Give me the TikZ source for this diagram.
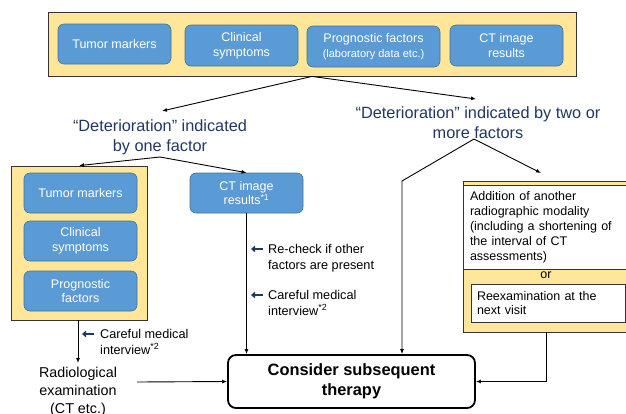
\documentclass[tikz,border=0pt]{standalone}
\usepackage{fontspec}
\setmainfont{Liberation Sans}
\usetikzlibrary{arrows.meta,calc}
\definecolor{yel}{HTML}{FFE699}
\definecolor{blu}{HTML}{5B9BD5}
\definecolor{bluD}{HTML}{41719C}
\definecolor{navy}{HTML}{203864}
\newcommand{\fsz}[2]{\fontsize{#1}{#2}\selectfont}
\tikzset{
  yelbox/.style={fill=yel, draw=black!80, line width=0.8pt, inner sep=0},
  bluebox/.style={fill=blu, draw=bluD, line width=0.6pt, rounded corners=6pt, text=white,
    font=\fsz{12.5}{14.7}, align=center, inner sep=0, minimum width=113pt, minimum height=40pt},
  whitebox/.style={fill=white, draw=black!80, line width=0.6pt, align=left, font=\fsz{12.5}{15}, inner ysep=0},
  conn/.style={line width=0.9pt, -{Latex[length=5pt,width=4pt]}},
  navytxt/.style={text=navy, font=\fsz{16.3}{20}, align=center, inner sep=0},
  note/.style={font=\fsz{12.7}{15.5}, align=left, inner sep=0, anchor=north west},
  navyarrow/.style={draw=navy, line width=2.4pt, -{Triangle[length=4pt,width=6.5pt]}},
}
\begin{document}
\begin{tikzpicture}[x=1pt,y=-1pt]
\useasboundingbox (0,0) rectangle (626,413);
% top box
\node[yelbox, minimum width=528pt, minimum height=64pt] (top) at (312,44) {};
\node[bluebox] (tm1) at (114.5,44) {Tumor markers};
\node[bluebox, minimum height=41pt] (cs1) at (241.5,45.5) {Clinical\\symptoms};
\node[bluebox, minimum width=133pt, minimum height=41pt] (pf1) at (373.5,46.5) {Prognostic factors\\{\fsz{11}{13}(laboratory data etc.)}};
\node[bluebox, minimum height=41pt] (ct1) at (506.5,45.5) {CT image\\results};
% deterioration texts
\node[navytxt] (dl) at (160,137.5) {“Deterioration” indicated\\by one factor};
\node[navytxt] (dr) at (478,122.7) {“Deterioration” indicated by two or\\more factors};
\coordinate (dlIn) at (162,111);
\coordinate (drIn) at (476,99);
\coordinate (dlOut) at (160,157);
\coordinate (drOut) at (474,139);
\coordinate (rIn) at (541,173);
\coordinate (bend) at (402,181);
\draw[conn] (top.south) -- (dlIn);
\draw[conn] (top.south) -- (drIn);
% left group
\node[yelbox, minimum width=136pt, minimum height=154pt] (lbox) at (79,243) {};
\node[bluebox] (tm2) at (80.5,193) {Tumor markers};
\node[bluebox] (cs2) at (80.5,241) {Clinical\\symptoms};
\node[bluebox] (pf2) at (80.5,291) {Prognostic\\factors};
\node[bluebox] (ct2) at (246.5,193) {CT image\\results\textsuperscript{*1}};
\draw[conn] (dlOut) -- (lbox.north);
\draw[conn] (dlOut) -- (ct2.north);
% right group
\node[yelbox, minimum width=166pt, minimum height=151pt] (rbox) at (546,256.5) {};
\node[whitebox, minimum width=166pt, minimum height=84pt, text width=152pt, inner xsep=7pt] (add) at (546,227)
  {Addition of another\\radiographic modality\\(including a shortening of\\the interval of CT\\assessments)};
\node[font=\fsz{12.5}{15}, inner sep=0] (or) at (546,275) {or};
\node[whitebox, minimum width=154pt, minimum height=38pt, text width=142pt, inner xsep=6pt, font=\fsz{12.5}{14.5}] (reex) at (548,303)
  {Reexamination at the\\next visit};
\draw[conn] (drOut) -- (rIn);
% consider
\node[draw, line width=1.8pt, rounded corners=8pt, minimum width=247pt, minimum height=53pt,
  font=\fsz{16.4}{20}\bfseries, align=center, inner sep=0] (cons) at (351.5,381.5) {Consider subsequent\\therapy};
\draw[conn] (drOut) -- (bend) -- (bend |- cons.north);
\draw[conn] (ct2.south) -- (ct2.south |- cons.north);
\draw[conn] (rbox.south) |- (cons.east);
% radiological
\node[font=\fsz{14.3}{18}, align=center, inner xsep=0, inner ysep=3.5pt, anchor=north] (rad) at (78,363)
  {Radiological\\examination\\(CT etc.)};
\coordinate (radR) at (137,382);
\draw[conn] (lbox.south -| rad.north) -- (rad.north);
\draw[conn] (radR) -- (cons.west);
% notes
\draw[navyarrow] (94,334) -- (82,334);
\node[note] (n1) at (100,329.1) {Careful medical\\interview\textsuperscript{*2}};
\draw[navyarrow] (263,249) -- (251,249);
\node[note] (n2) at (268,244.1) {Re-check if other\\factors are present};
\draw[navyarrow] (263,295) -- (251,295);
\node[note] (n3) at (268,290.1) {Careful medical\\interview\textsuperscript{*2}};
\end{tikzpicture}
\end{document}
